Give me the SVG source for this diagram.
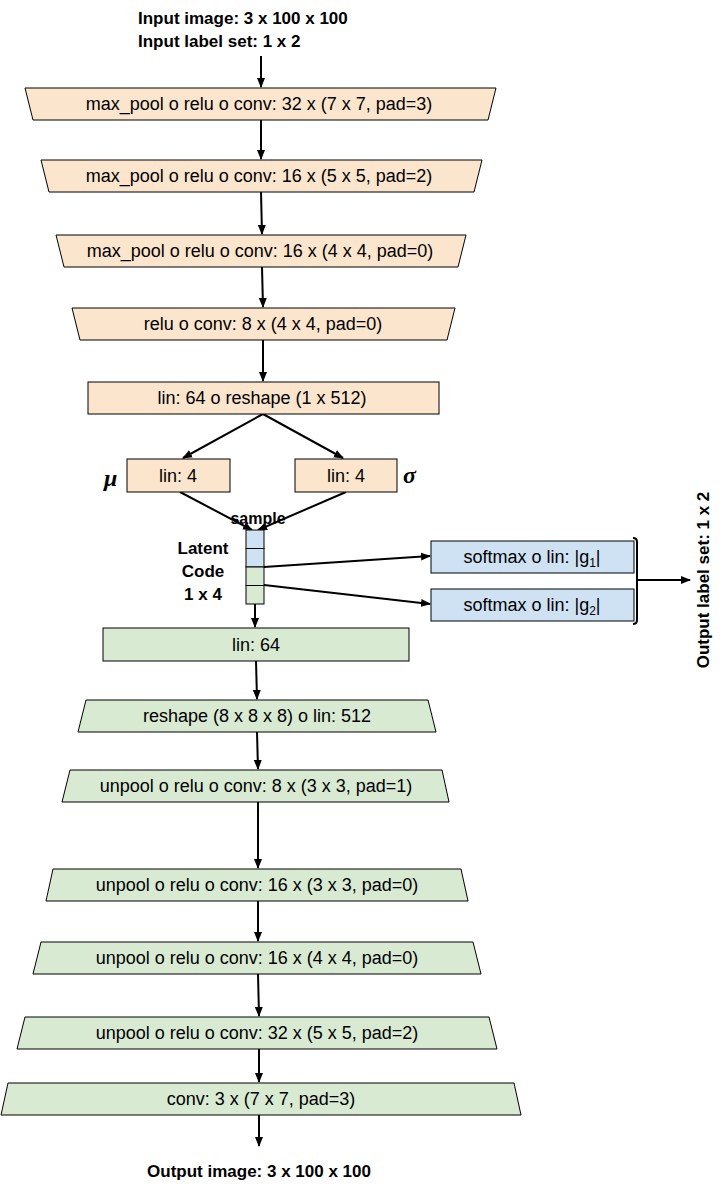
<svg xmlns="http://www.w3.org/2000/svg" width="726" height="1187" viewBox="0 0 726 1187">
<defs>
<marker id="ah" markerWidth="10" markerHeight="10" refX="9" refY="5" orient="auto" markerUnits="userSpaceOnUse"><path d="M0,1 L10,5 L0,9 z" fill="#000"/></marker>
<style>
.o{fill:#fce5cd;stroke:#000;stroke-width:1}
.g{fill:#d9ead3;stroke:#000;stroke-width:1}
.b{fill:#cfe2f3;stroke:#000;stroke-width:1}
text{font-family:"Liberation Sans",Arial,sans-serif;font-size:18px;fill:#000}
.c{text-anchor:middle}
.bd{font-weight:bold;font-size:17px}
.e line{stroke:#000;stroke-width:2;fill:none;marker-end:url(#ah)}
</style>
</defs>
<text x="138" y="24" class="bd">Input image: 3 x 100 x 100</text>
<text x="138" y="47" class="bd">Input label set: 1 x 2</text>
<g class="e">
<line x1="261" y1="56" x2="261" y2="87"/>
<line x1="261" y1="120" x2="261" y2="159"/>
<line x1="261" y1="192" x2="262" y2="234"/>
<line x1="262" y1="267" x2="263" y2="307"/>
<line x1="263" y1="340" x2="263" y2="381"/>
<line x1="263" y1="414" x2="183" y2="458"/>
<line x1="263" y1="414" x2="343" y2="458"/>
<line x1="180" y1="492" x2="252" y2="530"/>
<line x1="346" y1="492" x2="258" y2="530"/>
<line x1="264" y1="567" x2="430" y2="556"/>
<line x1="264" y1="585" x2="430" y2="604"/>
<line x1="636" y1="580" x2="690" y2="580"/>
<line x1="255" y1="604" x2="255" y2="627"/>
<line x1="256" y1="661" x2="257" y2="699"/>
<line x1="257" y1="732" x2="258" y2="769"/>
<line x1="258" y1="802" x2="258" y2="868"/>
<line x1="258" y1="901" x2="258" y2="941"/>
<line x1="258" y1="974" x2="259" y2="1016"/>
<line x1="259" y1="1049" x2="259" y2="1082"/>
<line x1="259" y1="1115" x2="259" y2="1146"/>
</g>
<g id="enc1"><polygon class="o" points="25,88 496,88 488,120 33,120"/><text x="259" y="110" class="c">max_pool o relu o conv: 32 x (7 x 7, pad=3)</text></g>
<g id="enc2"><polygon class="o" points="41,160 482,160 474,192 49,192"/><text x="259" y="182" class="c">max_pool o relu o conv: 16 x (5 x 5, pad=2)</text></g>
<g id="enc3"><polygon class="o" points="56,235 466,235 458,267 64,267"/><text x="260" y="257" class="c">max_pool o relu o conv: 16 x (4 x 4, pad=0)</text></g>
<g id="enc4"><polygon class="o" points="72,308 455,308 447,340 80,340"/><text x="263" y="330" class="c">relu o conv: 8 x (4 x 4, pad=0)</text></g>
<g id="enc5"><rect class="o" x="88" y="382" width="351" height="32"/><text x="262" y="404" class="c">lin: 64 o reshape (1 x 512)</text></g>
<g id="mu"><rect class="o" x="127" y="459" width="103" height="33"/><text x="178" y="482" class="c">lin: 4</text><text x="104" y="486" style="font-family:'Liberation Serif',serif;font-size:24px;font-weight:bold;font-style:italic">μ</text></g>
<g id="sigma"><rect class="o" x="295" y="459" width="102" height="33"/><text x="346" y="482" class="c">lin: 4</text><text x="403" y="483" style="font-family:'Liberation Serif',serif;font-size:24px;font-weight:bold;font-style:italic">σ</text></g>
<text x="258" y="524" class="c bd" style="font-size:16px">sample</text>
<g id="latent">
<rect class="b" x="246" y="530" width="18" height="18.5"/><rect class="b" x="246" y="548.5" width="18" height="18.5"/>
<rect class="g" x="246" y="567" width="18" height="18.5"/><rect class="g" x="246" y="585.5" width="18" height="18.5"/>
<text x="203" y="554" class="c bd">Latent</text><text x="203" y="577" class="c bd">Code</text><text x="203" y="600" class="c bd">1 x 4</text>
</g>
<g id="soft1"><rect class="b" x="431" y="541" width="203" height="32"/><text x="532" y="563" class="c">softmax o lin: |g<tspan font-size="12" dy="4">1</tspan><tspan dy="-4">|</tspan></text></g>
<g id="soft2"><rect class="b" x="431" y="589" width="203" height="32"/><text x="532" y="611" class="c">softmax o lin: |g<tspan font-size="12" dy="4">2</tspan><tspan dy="-4">|</tspan></text></g>
<path d="M633,538 Q637,538 637,542 L637,620 Q637,624 633,624" stroke="#000" stroke-width="2" fill="none"/>
<text transform="translate(709,580) rotate(-90)" class="c bd">Output label set: 1 x 2</text>
<g id="dec0"><rect class="g" x="103" y="628" width="306" height="33"/><text x="256" y="651" class="c">lin: 64</text></g>
<g id="dec1"><polygon class="g" points="86,700 428,700 436,732 78,732"/><text x="257" y="722" class="c">reshape (8 x 8 x 8) o lin: 512</text></g>
<g id="dec2"><polygon class="g" points="70,770 442,770 449,802 62,802"/><text x="256" y="792" class="c">unpool o relu o conv: 8 x (3 x 3, pad=1)</text></g>
<g id="dec3"><polygon class="g" points="53,869 461,869 468,901 46,901"/><text x="257" y="891" class="c">unpool o relu o conv: 16 x (3 x 3, pad=0)</text></g>
<g id="dec4"><polygon class="g" points="41,942 473,942 481,974 33,974"/><text x="257" y="964" class="c">unpool o relu o conv: 16 x (4 x 4, pad=0)</text></g>
<g id="dec5"><polygon class="g" points="25,1017 489,1017 497,1049 17,1049"/><text x="257" y="1039" class="c">unpool o relu o conv: 32 x (5 x 5, pad=2)</text></g>
<g id="dec6"><polygon class="g" points="8,1083 514,1083 521,1115 1,1115"/><text x="261" y="1105" class="c">conv: 3 x (7 x 7, pad=3)</text></g>
<text x="259" y="1177" class="c bd">Output image: 3 x 100 x 100</text>
</svg>
